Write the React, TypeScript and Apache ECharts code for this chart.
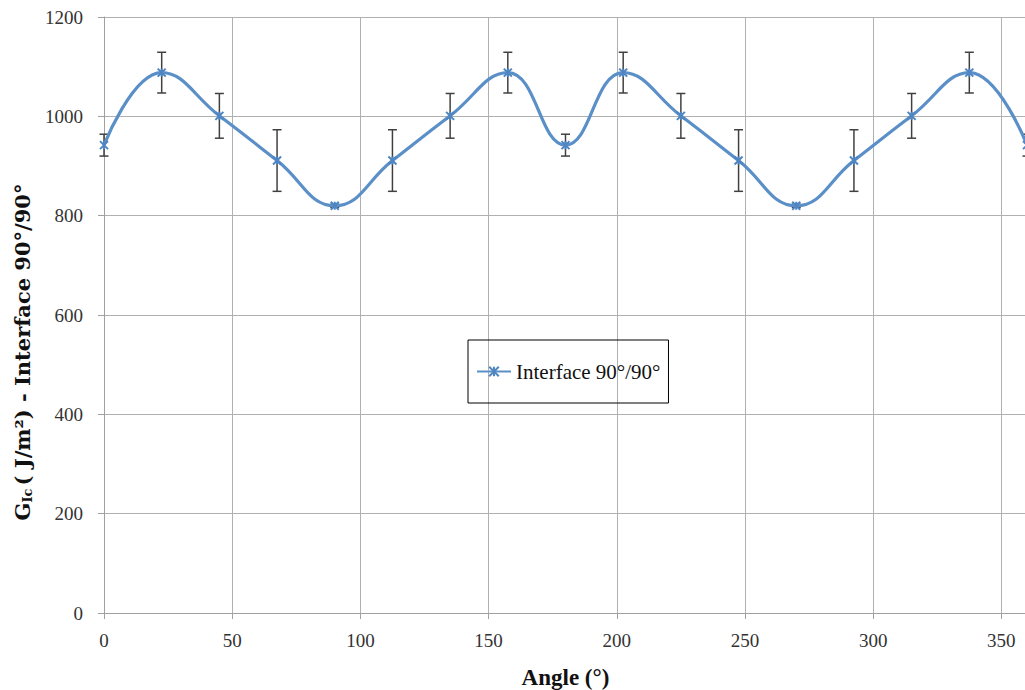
import React, { useEffect, useRef } from "react";
import * as echarts from "echarts";

const angles = [0, 22.5, 45, 67.5, 90, 112.5, 135, 157.5, 180, 202.5, 225, 247.5, 270, 292.5, 315, 337.5, 360];
const gValues = [942, 1088, 1001, 911, 820, 911, 1001, 1088, 942, 1088, 1001, 911, 820, 911, 1001, 1088, 942];
const gErrors = [22, 41, 45, 62, 3, 62, 45, 41, 22, 41, 45, 62, 3, 62, 45, 41, 22];
const xTickLabels = ["0", "50", "100", "150", "200", "250", "300", "350"];
const seriesName = "Interface 90°/90°";

const FONT = "'Liberation Serif', 'DejaVu Serif', serif";
const TITLE_FONT = "'DejaVu Serif', 'Liberation Serif', serif";

export default function App() {
  const ref = useRef<HTMLDivElement>(null);
  useEffect(() => {
    if (!ref.current) return;
    const chart = echarts.init(ref.current, undefined, { renderer: "svg" });
    const lineData = angles.map((a, i) => [a, gValues[i]]);
    const errData = angles.map((a, i) => [a, gValues[i] - gErrors[i], gValues[i] + gErrors[i]]);
    chart.setOption({
      animation: false,
      backgroundColor: "#fff",
      textStyle: { fontFamily: FONT },
      grid: { left: 104, top: 17, width: 923, height: 596, containLabel: false, outerBoundsMode: "none" },
      graphic: [
        {
          type: "text",
          x: 22,
          y: 352,
          rotation: Math.PI / 2,
          style: {
            text: "{m|G}{s|Ic}{m|( J/m²) - Interface 90°/90°}",
            align: "center",
            verticalAlign: "middle",
            fill: "#111",
            rich: {
              m: { fontSize: 21, fontWeight: "bold", fill: "#111", fontFamily: TITLE_FONT },
              s: { fontSize: 13, fontWeight: "bold", fill: "#111", fontFamily: TITLE_FONT, padding: [11, 3, 0, 0] },
            },
          },
        },
      ],
      legend: {
        data: [seriesName],
        left: 468,
        top: 340,
        borderColor: "#000",
        borderWidth: 1,
        padding: [21, 8, 21, 8],
        itemWidth: 34,
        itemHeight: 12,
        textStyle: { fontSize: 21, color: "#111", fontFamily: FONT },
      },
      xAxis: {
        type: "value",
        min: 0,
        max: 360,
        interval: 50,
        name: "Angle (°)",
        nameLocation: "middle",
        nameGap: 53,
        nameTextStyle: { fontSize: 23, fontWeight: "bold", color: "#111", fontFamily: FONT },
        axisLine: { show: true, lineStyle: { color: "#a0a0a0", width: 1 } },
        axisTick: { show: true, length: 6, lineStyle: { color: "#a0a0a0" } },
        axisLabel: {
          fontSize: 19,
          color: "#333",
          margin: 18,
          fontFamily: FONT,
          showMaxLabel: false,
          formatter: (v: number) => (xTickLabels.includes(String(v)) ? String(v) : ""),
        },
        splitLine: { show: true, lineStyle: { color: "#b0b0b0", width: 1 } },
      },
      yAxis: {
        type: "value",
        min: 0,
        max: 1200,
        interval: 200,
        axisLine: { show: true, lineStyle: { color: "#a0a0a0", width: 1 } },
        axisTick: { show: true, length: 6, lineStyle: { color: "#a0a0a0" } },
        axisLabel: { fontSize: 19, color: "#333", margin: 21, fontFamily: FONT, formatter: (v: number) => String(v) },
        splitLine: { show: true, lineStyle: { color: "#b0b0b0", width: 1 } },
      },
      series: [
        {
          type: "custom",
          name: "err",
          data: errData,
          z: 3,
          renderItem: (params: any, api: any) => {
            const x = api.value(0);
            const lo = api.coord([x, api.value(1)]);
            const hi = api.coord([x, api.value(2)]);
            const cap = 4.5;
            const st = { stroke: "#404040", lineWidth: 1.5 };
            return {
              type: "group",
              children: [
                { type: "line", shape: { x1: lo[0], y1: lo[1], x2: hi[0], y2: hi[1] }, style: st },
                { type: "line", shape: { x1: lo[0] - cap, y1: lo[1], x2: lo[0] + cap, y2: lo[1] }, style: st },
                { type: "line", shape: { x1: hi[0] - cap, y1: hi[1], x2: hi[0] + cap, y2: hi[1] }, style: st },
              ],
            };
          },
        },
        {
          type: "line",
          name: seriesName,
          data: lineData,
          smooth: 0.45,
          z: 4,
          symbol: "path://M0,0L10,10M10,0L0,10M5,0L5,10",
          symbolSize: 8,
          showSymbol: true,
          lineStyle: { color: "#5A8FC8", width: 3.2 },
          itemStyle: { color: "#4F86C2", borderColor: "#4F86C2", borderWidth: 2 },
        },
      ],
    });
    return () => chart.dispose();
  }, []);
  return (
    <div
      ref={ref}
      style={{ position: "fixed", left: 0, top: 0, width: 1040, height: 690, background: "#fff" }}
    />
  );
}
